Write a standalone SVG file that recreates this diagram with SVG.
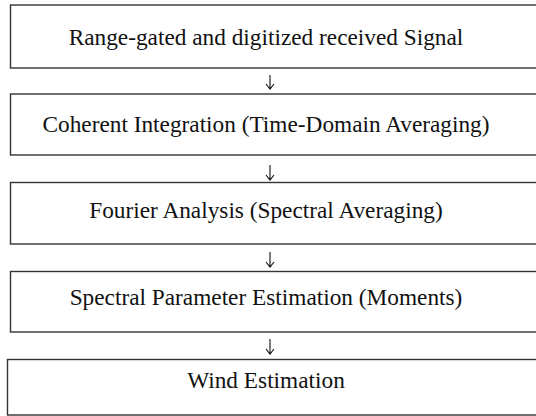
<svg xmlns="http://www.w3.org/2000/svg" width="536" height="416" viewBox="0 0 536 416">
<style>
.box{fill:#fff;stroke:#333;stroke-width:1.4}
.t{font-family:"Liberation Serif","Times New Roman",serif;font-size:23.3px;fill:#111;text-anchor:middle}
.arr{fill:none;stroke:#111;stroke-width:1.1}
</style>
<rect width="536" height="416" fill="#fff"/>
<g id="n1"><rect class="box" x="10.5" y="5" width="533" height="63"/><text class="t" x="266" y="45">Range-gated and digitized received Signal</text></g>
<g id="n2"><rect class="box" x="10.5" y="94" width="533" height="61"/><text class="t" x="266" y="132">Coherent Integration (Time-Domain Averaging)</text></g>
<g id="n3"><rect class="box" x="10.5" y="182.5" width="533" height="61.5"/><text class="t" x="266" y="218">Fourier Analysis (Spectral Averaging)</text></g>
<g id="n4"><rect class="box" x="10.5" y="271.5" width="533" height="60.5"/><text class="t" x="266" y="305">Spectral Parameter Estimation (Moments)</text></g>
<g id="n5"><rect class="box" x="7.5" y="359.5" width="539" height="55.5"/><text class="t" x="266" y="388">Wind Estimation</text></g>
<g id="connectors">
<path class="arr" d="M270 75V89M266 84L270 89L274 84"/>
<path class="arr" d="M270 165V180M266 175L270 180L274 175"/>
<path class="arr" d="M270 252V267M266 262L270 267L274 262"/>
<path class="arr" d="M270 339V354M266 349L270 354L274 349"/>
</g>
</svg>
